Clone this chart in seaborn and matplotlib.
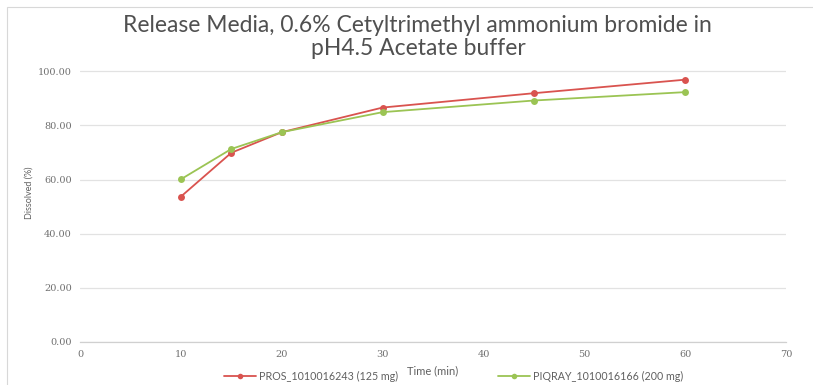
import matplotlib
matplotlib.use("Agg")
import matplotlib.pyplot as plt
import seaborn as sns
import pandas as pd
from matplotlib.patches import Rectangle

# Dissolution data
time_min = [10, 15, 20, 30, 45, 60]
pros_values = [53.7, 69.9, 77.5, 86.6, 91.9, 96.9]
piqray_values = [60.1, 71.3, 77.5, 84.9, 89.2, 92.3]
series_names = ["PROS_1010016243 (125 mg)", "PIQRAY_1010016166 (200 mg)"]
y_ticks = [0, 20, 40, 60, 80, 100]
x_ticks = [0, 10, 20, 30, 40, 50, 60, 70]

df = pd.DataFrame({
    "Time": time_min * 2,
    "Dissolved": pros_values + piqray_values,
    "Product": [series_names[0]] * len(time_min) + [series_names[1]] * len(time_min),
})

sns.set_theme(style="white")
plt.rcParams["font.family"] = ["Lato", "DejaVu Sans"]

fig = plt.figure(figsize=(8.13, 3.85), dpi=100)
ax = fig.add_axes([0.0984, 0.1117, 0.8686, 0.7735])

palette = {series_names[0]: "#d9534f", series_names[1]: "#9bc454"}
sns.lineplot(data=df, x="Time", y="Dissolved", hue="Product", palette=palette,
             marker="o", markersize=5, markeredgewidth=0, linewidth=1.3,
             ax=ax, legend=False)

ax.set_xlim(0, 70)
ax.set_ylim(0, 110)
ax.set_yticks(y_ticks)
ax.set_yticklabels([f"{v:.2f}" for v in y_ticks])
ax.set_xticks(x_ticks)
ax.set_xticklabels([str(v) for v in x_ticks])
ax.tick_params(axis="both", length=0, labelsize=7, colors="#707070", pad=6)
for lbl in ax.get_xticklabels() + ax.get_yticklabels():
    lbl.set_family(["DejaVu Serif"])

ax.yaxis.grid(True, color="#e2e2e2", linewidth=0.9)
ax.xaxis.grid(False)
for side in ["top", "right", "left"]:
    ax.spines[side].set_visible(False)
ax.spines["bottom"].set_color("#d0d0d0")
ax.spines["bottom"].set_linewidth(0.9)

ax.set_xlabel("Time (min)", fontsize=8, color="#606060", labelpad=4)
ax.set_ylabel("Dissolved (%)", fontsize=6.5, color="#606060", labelpad=3)

fig.text(0.514, 0.904, "Release Media, 0.6% Cetyltrimethyl ammonium bromide in\npH4.5 Acetate buffer",
         ha="center", va="center", fontsize=16.5, color="#505050", linespacing=1.12)

# Legend below the axis
handles = [
    plt.Line2D([], [], color=palette[series_names[0]], marker="o", markersize=4,
               markeredgewidth=0, linewidth=1.3),
    plt.Line2D([], [], color=palette[series_names[1]], marker="o", markersize=4,
               markeredgewidth=0, linewidth=1.3),
]
fig.legend(handles, series_names, loc="center", bbox_to_anchor=(0.558, 0.022),
           ncol=2, frameon=False, fontsize=7.7, labelcolor="#606060",
           columnspacing=9.3, handlelength=3, handletextpad=0.3)

# Chart frame
fig.patches.append(Rectangle((0.009, -0.05), 1.2, 1.032, transform=fig.transFigure,
                             fill=False, edgecolor="#d8d8d8", linewidth=0.8))

fig.savefig("out.png", dpi=100)
